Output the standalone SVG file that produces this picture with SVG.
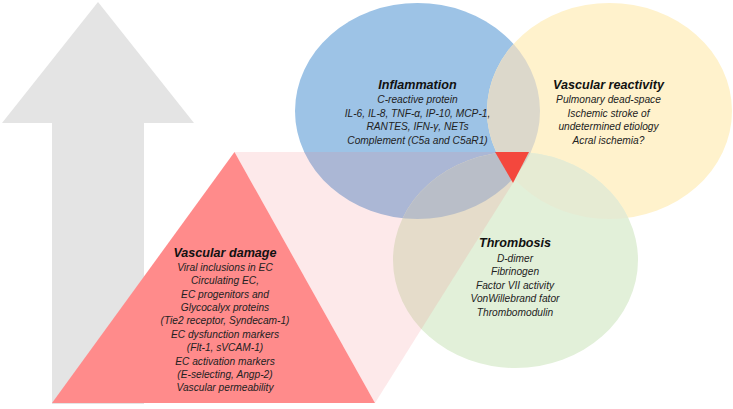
<svg xmlns="http://www.w3.org/2000/svg" width="733" height="409" viewBox="0 0 733 409">
<style>
.t{font-family:"Liberation Sans",Arial,sans-serif;font-style:italic;font-size:10.2px;fill:#222;text-anchor:middle}
.h{font-weight:bold;font-size:12.6px;fill:#111}
</style>
<defs>
<clipPath id="cBlue"><ellipse cx="417.5" cy="111" rx="122.5" ry="108"/></clipPath>
<clipPath id="cYellow"><ellipse cx="609.5" cy="111" rx="122.5" ry="108"/></clipPath>
<filter id="soft" x="-20%" y="-20%" width="140%" height="140%"><feGaussianBlur stdDeviation="0.7"/></filter>
</defs>
<rect width="733" height="409" fill="#fff"/>
<g id="arrow">
<polygon points="98,2 194,123 144,123 144,404 52,404 52,123 2,123" fill="#e4e4e4"/>
</g>
<g id="circles">
<ellipse id="inflammation-circle" cx="417.5" cy="111" rx="122.5" ry="108" fill="#9dc3e6"/>
<ellipse id="reactivity-circle" cx="609.5" cy="111" rx="122.5" ry="108" fill="#fff2cc"/>
<ellipse id="thrombosis-circle" cx="515.5" cy="260" rx="122.5" ry="108" fill="#e2f0d9"/>
<ellipse cx="609.5" cy="111" rx="122.5" ry="108" fill="#dcd8cb" clip-path="url(#cBlue)"/>
<ellipse cx="515.5" cy="260" rx="122.5" ry="108" fill="#aeccd6" clip-path="url(#cBlue)"/>
<ellipse cx="515.5" cy="260" rx="122.5" ry="108" fill="#e6ebd3" clip-path="url(#cYellow)"/>
<g clip-path="url(#cBlue)"><ellipse cx="515.5" cy="260" rx="122.5" ry="108" fill="#cfd3c6" clip-path="url(#cYellow)"/></g>
</g>
<g id="connectors">
<polygon points="234.5,152 495,152 513,183 375,403" fill="#f57f80" fill-opacity="0.17"/>
</g>
<g id="vascular-damage">
<polygon points="234.5,152 375,403 52,403" fill="#ff8b8b"/>
<text class="t h" x="225" y="257">Vascular damage</text>
<text class="t" x="225" y="270.7">Viral inclusions in EC</text>
<text class="t" x="225" y="284.1">Circulating EC,</text>
<text class="t" x="225" y="297.5">EC progenitors and</text>
<text class="t" x="225" y="310.9">Glycocalyx proteins</text>
<text class="t" x="225" y="324.3">(Tie2 receptor, Syndecam-1)</text>
<text class="t" x="225" y="337.7">EC dysfunction markers</text>
<text class="t" x="225" y="351.1">(Flt-1, sVCAM-1)</text>
<text class="t" x="225" y="364.5">EC activation markers</text>
<text class="t" x="225" y="377.9">(E-selecting, Angp-2)</text>
<text class="t" x="225" y="391.3">Vascular permeability</text>
</g>
<g id="center">
<polygon points="495,152 529,152 513,183" fill="#f4473c" filter="url(#soft)"/>
</g>
<g id="inflammation">
<text class="t h" x="417.5" y="89">Inflammation</text>
<text class="t" x="417.5" y="103">C-reactive protein</text>
<text class="t" x="417.5" y="116.5">IL-6, IL-8, TNF-α, IP-10, MCP-1,</text>
<text class="t" x="417.5" y="130">RANTES, IFN-γ, NETs</text>
<text class="t" x="417.5" y="143.5">Complement (C5a and C5aR1)</text>
</g>
<g id="vascular-reactivity">
<text class="t h" x="608.5" y="89">Vascular reactivity</text>
<text class="t" x="608.5" y="103">Pulmonary dead-space</text>
<text class="t" x="608.5" y="116.5">Ischemic stroke of</text>
<text class="t" x="608.5" y="130">undetermined etiology</text>
<text class="t" x="608.5" y="143.5">Acral ischemia?</text>
</g>
<g id="thrombosis">
<text class="t h" x="515" y="247">Thrombosis</text>
<text class="t" x="515" y="261.5">D-dimer</text>
<text class="t" x="515" y="275">Fibrinogen</text>
<text class="t" x="515" y="288.5">Factor VII activity</text>
<text class="t" x="515" y="302">VonWillebrand fator</text>
<text class="t" x="515" y="315.5">Thrombomodulin</text>
</g>
</svg>
